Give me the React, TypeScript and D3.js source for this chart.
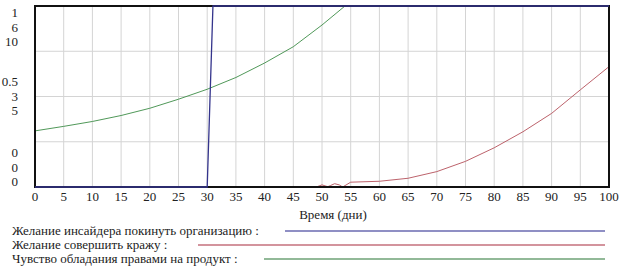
import React from "react";
import * as d3 from "d3";

const xTicks = d3.range(0, 101, 5);
const seriesNames = [
  "Желание инсайдера покинуть организацию :",
  "Желание совершить кражу :",
  "Чувство обладания правами на продукт :",
];
const seriesColors = ["#34348c", "#b4505a", "#3c8c46"];
const legendColors = ["#6a6ab0", "#c4707c", "#6ea276"];
const seriesMax = [1, 6, 10];
const legendLineStart = [285, 198, 264];

const blueTimes = [0, 30, 31, 100];
const blueValues = [0, 0, 1, 1];

const redTimes = [0, 48, 49, 50, 51, 51.5, 52.2, 53, 53.6, 55, 60, 65, 70, 75, 80, 85, 90, 95, 100];
const redValues = [0, 0, 0, 0.07, 0.01, 0.05, 0.11, 0.07, 0, 0.16, 0.19, 0.29, 0.51, 0.85, 1.3, 1.83, 2.44, 3.22, 3.99];

const greenTimes = [0, 5, 10, 15, 20, 25, 30, 35, 40, 45, 50, 54, 56];
const greenValues = [3.1, 3.35, 3.62, 3.95, 4.35, 4.85, 5.4, 6.05, 6.85, 7.75, 8.95, 10, 10.6];

const xAxisTitle = "Время (дни)";

const L = 35, R = 609, T = 6, B = 187;
const FONT = "Liberation Serif";
const K = 2;

function T13(props: { x: number; y: number; anchor?: string; children: React.ReactNode }) {
  return (
    <g transform={`translate(${props.x},${props.y}) scale(${1 / K})`}>
      <text
        x={0}
        y={0}
        textAnchor={props.anchor || "start"}
        fill="#222"
        style={{ fontFamily: `"${FONT}"`, fontSize: `${13 * K}px` }}
      >
        {props.children}
      </text>
    </g>
  );
}

export default function App() {
  const x = d3.scaleLinear().domain([0, 100]).range([L, R]);
  const yScales = seriesMax.map((m) => d3.scaleLinear().domain([0, m]).range([B, T]));
  const mk = (ts: number[], vs: number[], y: d3.ScaleLinear<number, number>) =>
    d3.line<number>().x((_, i) => x(ts[i])).y((v) => y(v))(vs) || "";
  const bluePath = mk(blueTimes, blueValues, yScales[0]);
  const redPath = mk(redTimes, redValues, yScales[1]);
  const greenPath = mk(greenTimes, greenValues, yScales[2]);
  const hGrid = [0.25, 0.5, 0.75].map((f) => yScales[0](f));
  const topLabels = seriesMax.map((m) => String(m));
  const midLabels = seriesMax.map((m) => String(m / 2));
  const botLabels = seriesMax.map(() => "0");
  const legendY = [231, 245, 259];

  return (
    <svg width={624} height={270} style={{ position: "absolute", left: 0, top: 0, background: "#fff" }}>
      <defs>
        <clipPath id="plot">
          <rect x={L} y={T} width={R - L} height={B - T} />
        </clipPath>
      </defs>
      <rect x={0} y={0} width={624} height={270} fill="#fff" />
      {xTicks.slice(1, -1).map((t) => (
        <line key={t} x1={x(t)} x2={x(t)} y1={T} y2={B} stroke="#d4d4d4" strokeWidth={1} />
      ))}
      {hGrid.map((y, i) => (
        <line key={i} x1={L} x2={R} y1={y} y2={y} stroke="#d4d4d4" strokeWidth={1} />
      ))}
      <g clipPath="url(#plot)">
        <path d={greenPath} fill="none" stroke={seriesColors[2]} strokeWidth={0.9} />
        <path d={redPath} fill="none" stroke={seriesColors[1]} strokeWidth={0.9} />
      </g>
      <rect x={L} y={T} width={R - L} height={B - T} fill="none" stroke="#111" strokeWidth={2} />
      <path d={bluePath} fill="none" stroke={seriesColors[0]} strokeWidth={1.3} />
      {topLabels.map((s, i) => (
        <T13 key={"t" + i} x={18} y={17 + i * 14.5} anchor="end">{s}</T13>
      ))}
      {midLabels.map((s, i) => (
        <T13 key={"m" + i} x={18} y={86 + i * 14.5} anchor="end">{s}</T13>
      ))}
      {botLabels.map((s, i) => (
        <T13 key={"b" + i} x={18} y={157 + i * 14.5} anchor="end">{s}</T13>
      ))}
      {xTicks.map((t) => (
        <T13 key={t} x={x(t)} y={201} anchor="middle">{t}</T13>
      ))}
      <T13 x={333} y={219} anchor="middle">{xAxisTitle}</T13>
      {seriesNames.map((n, i) => (
        <g key={i}>
          <T13 x={12} y={legendY[i] + 4}>{n}</T13>
          <line x1={legendLineStart[i]} x2={605} y1={legendY[i]} y2={legendY[i]} stroke={legendColors[i]} strokeWidth={1.3} />
        </g>
      ))}
    </svg>
  );
}
